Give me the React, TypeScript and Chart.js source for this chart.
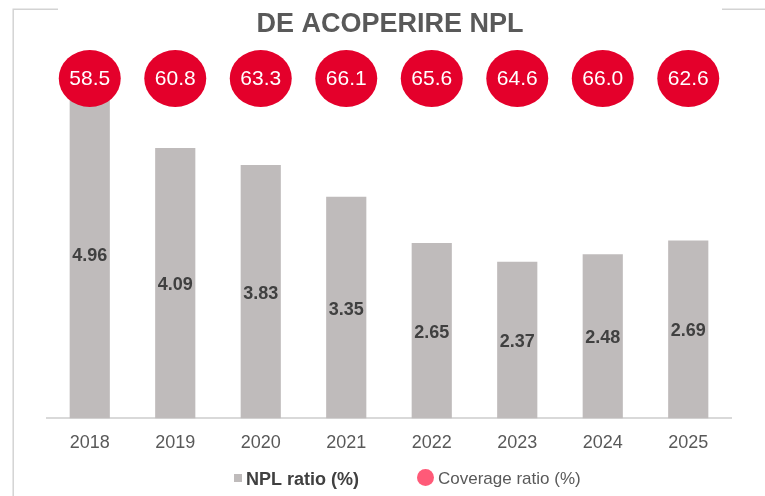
import React, { useEffect, useRef } from "react";
import { Chart, registerables } from "chart.js";

Chart.register(...registerables);

const years = ["2018", "2019", "2020", "2021", "2022", "2023", "2024", "2025"];
const nplRatio = [4.96, 4.09, 3.83, 3.35, 2.65, 2.37, 2.48, 2.69];
const coverageRatio = [58.5, 60.8, 63.3, 66.1, 65.6, 64.6, 66.0, 62.6];
const chartTitle = "DE ACOPERIRE NPL";
const nplLabel = "NPL ratio (%)";
const coverageLabel = "Coverage ratio (%)";

const FONT = "'Liberation Sans', Arial, sans-serif";

const decorPlugin = {
  id: "decor",
  beforeDraw(chart: any) {
    const ctx = chart.ctx;
    ctx.save();
    ctx.strokeStyle = "#D3D3D3";
    ctx.lineWidth = 1.5;
    ctx.beginPath();
    ctx.moveTo(13.2, 9.2);
    ctx.lineTo(13.2, 496);
    ctx.moveTo(12.5, 9.2);
    ctx.lineTo(58, 9.2);
    ctx.moveTo(722, 9.2);
    ctx.lineTo(765, 9.2);
    ctx.stroke();

    ctx.fillStyle = "#595959";
    ctx.font = `bold 27px ${FONT}`;
    ctx.textAlign = "center";
    ctx.textBaseline = "alphabetic";
    ctx.fillText(chartTitle, 390, 32);

    // legend
    ctx.fillStyle = "#BFBBBB";
    ctx.fillRect(234, 474, 8, 8);
    ctx.fillStyle = "#404040";
    ctx.font = `bold 18px ${FONT}`;
    ctx.textAlign = "left";
    ctx.fillText(nplLabel, 246, 485);

    ctx.fillStyle = "#FF5A78";
    ctx.beginPath();
    ctx.arc(425.5, 477.5, 8.5, 0, Math.PI * 2);
    ctx.fill();
    ctx.fillStyle = "#595959";
    ctx.font = `17px ${FONT}`;
    ctx.fillText(coverageLabel, 438, 484);
    ctx.restore();
  },
  afterDatasetsDraw(chart: any) {
    const ctx = chart.ctx;
    ctx.save();
    const barMeta = chart.getDatasetMeta(0);
    ctx.fillStyle = "#404040";
    ctx.font = `bold 18px ${FONT}`;
    ctx.textAlign = "center";
    ctx.textBaseline = "middle";
    barMeta.data.forEach((bar: any, i: number) => {
      const y = (bar.y + bar.base) / 2 + 2;
      ctx.fillText(nplRatio[i].toFixed(2), bar.x, y);
    });

    const covMeta = chart.getDatasetMeta(1);
    covMeta.data.forEach((pt: any, i: number) => {
      const cx = pt.x;
      const cy = 78.5;
      ctx.fillStyle = "#E4002B";
      ctx.beginPath();
      ctx.ellipse(cx, cy, 31, 28.5, 0, 0, Math.PI * 2);
      ctx.fill();
      ctx.fillStyle = "#FFFFFF";
      ctx.font = `21px ${FONT}`;
      ctx.textAlign = "center";
      ctx.textBaseline = "middle";
      ctx.fillText(coverageRatio[i].toFixed(1), cx, cy + 1);
    });
    ctx.restore();
  },
};

export default function App() {
  const ref = useRef<HTMLCanvasElement | null>(null);

  useEffect(() => {
    if (!ref.current) return;
    const chart = new Chart(ref.current, {
      type: "bar",
      data: {
        labels: years,
        datasets: [
          {
            type: "bar",
            label: nplLabel,
            data: nplRatio,
            backgroundColor: "#BFBBBB",
            borderWidth: 0,
            barPercentage: 0.47,
            categoryPercentage: 1,
            yAxisID: "y",
            order: 2,
          } as any,
          {
            type: "line",
            label: coverageLabel,
            data: coverageRatio,
            showLine: false,
            pointRadius: 0,
            pointHoverRadius: 0,
            yAxisID: "yCov",
            order: 1,
          } as any,
        ],
      },
      options: {
        animation: false,
        responsive: false,
        events: [],
        layout: { padding: { left: 47, right: 34, top: 48, bottom: 28 } },
        plugins: {
          legend: { display: false },
          title: { display: false },
          tooltip: { enabled: false },
        },
        scales: {
          x: {
            grid: { display: false, drawTicks: false },
            border: { display: true, color: "#D9D9D9", width: 2 },
            ticks: {
              color: "#595959",
              font: { family: FONT, size: 18 },
              padding: 14,
            },
          },
          y: { display: false, min: 0, max: 5.6 },
          yCov: { display: false, min: 0, max: 100 },
        },
      },
      plugins: [decorPlugin],
    });
    return () => chart.destroy();
  }, []);

  return (
    <div style={{ position: "fixed", left: 0, top: 0, width: 765, height: 496, background: "#fff" }}>
      <canvas ref={ref} width={765} height={496} style={{ width: 765, height: 496 }} />
    </div>
  );
}
